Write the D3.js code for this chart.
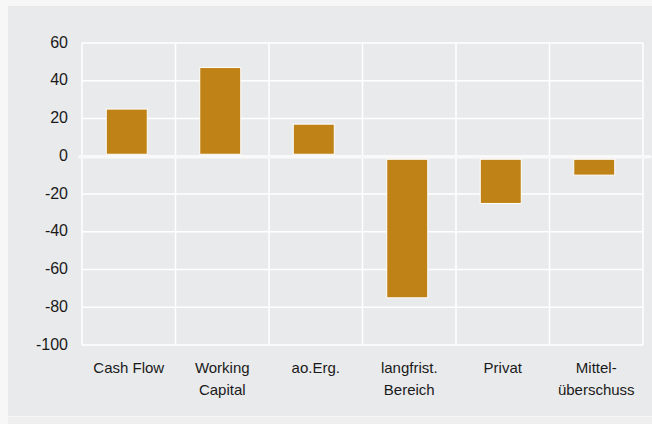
<!DOCTYPE html>
<html>
<head>
<meta charset="utf-8">
<script src="https://cdn.jsdelivr.net/npm/d3@7"></script>
<style>
  body { margin: 0; background: #f7f7f7; }
  svg { display: block; }
</style>
</head>
<body>
<script>
// Chart data
const categories = [["Cash Flow"], ["Working", "Capital"], ["ao.Erg."], ["langfrist.", "Bereich"], ["Privat"], ["Mittel-", "überschuss"]];
const values = [25, 47, 17, -75, -25, -10];
const yTicks = [60, 40, 20, 0, -20, -40, -60, -80, -100];

const width = 652, height = 424;
const margin = { top: 43, right: 9, bottom: 79, left: 82 };
const plotW = width - margin.left - margin.right;
const plotH = height - margin.top - margin.bottom;

const svg = d3.select("body").append("svg")
    .attr("width", width)
    .attr("height", height)
    .style("font-family", "'Liberation Sans', Arial, sans-serif");

// panel background
svg.append("rect")
    .attr("x", 8).attr("y", 6)
    .attr("width", width - 8).attr("height", 410)
    .attr("fill", "#e9eaec");
svg.append("rect")
    .attr("x", 8).attr("y", 417)
    .attr("width", width - 8).attr("height", 7)
    .attr("fill", "#efefef");

const g = svg.append("g")
    .attr("transform", `translate(${margin.left}, ${margin.top})`);

const y = d3.scaleLinear()
    .domain([-100, 60])
    .range([plotH, 0]);

// horizontal gridlines
g.append("g").selectAll("line")
    .data(yTicks.filter(d => d !== 0))
    .join("line")
    .attr("x1", 0).attr("x2", plotW)
    .attr("y1", d => y(d)).attr("y2", d => y(d))
    .attr("stroke", "#ffffff")
    .attr("stroke-width", 1.5);

// vertical gridlines at category edges
const x = d3.scaleLinear()
    .domain([0, categories.length])
    .range([0, plotW]);
const edges = d3.range(categories.length + 1);
g.append("g").selectAll("line")
    .data(edges)
    .join("line")
    .attr("x1", d => x(d)).attr("x2", d => x(d))
    .attr("y1", 0).attr("y2", plotH)
    .attr("stroke", "#ffffff")
    .attr("stroke-width", 1.5);

// y axis labels
const yAxis = d3.axisLeft(y)
    .tickValues(yTicks)
    .tickFormat(d => String(d))
    .tickSize(0)
    .tickPadding(14);
g.append("g")
    .call(yAxis)
    .call(a => a.select(".domain").remove())
    .call(a => a.selectAll("text")
        .attr("font-size", 16)
        .attr("font-family", "'Liberation Sans', Arial, sans-serif")
        .attr("fill", "#1a1a1a")
        .attr("dy", "0.25em"));

// bars
const barW = 41;
g.append("g").selectAll("rect")
    .data(values)
    .join("rect")
    .attr("x", (d, i) => x(i + 0.5) - 2 - barW / 2)
    .attr("width", barW)
    .attr("y", d => d >= 0 ? y(d) : y(0) + 3)
    .attr("height", d => d >= 0 ? y(0) - 2 - y(d) : y(d) - y(0) - 3)
    .attr("fill", "#bf8216")
    .attr("stroke", "#ffffff")
    .attr("stroke-width", 1);

// zero line
g.append("line")
    .attr("x1", -2).attr("x2", plotW + 7)
    .attr("y1", y(0) + 0.5).attr("y2", y(0) + 0.5)
    .attr("stroke", "#f9f9f9")
    .attr("stroke-width", 3.5)
    .attr("stroke-linecap", "round");

// x labels
const xl = g.append("g");
categories.forEach((lines, i) => {
    const t = xl.append("text")
        .attr("x", x(i + 0.5))
        .attr("y", plotH + 28)
        .attr("text-anchor", "middle")
        .attr("font-size", 15)
        .attr("fill", "#1a1a1a");
    lines.forEach((s, j) => {
        t.append("tspan")
            .attr("x", x(i + 0.5))
            .attr("dy", j === 0 ? 0 : 22)
            .text(s);
    });
});
</script>
</body>
</html>
